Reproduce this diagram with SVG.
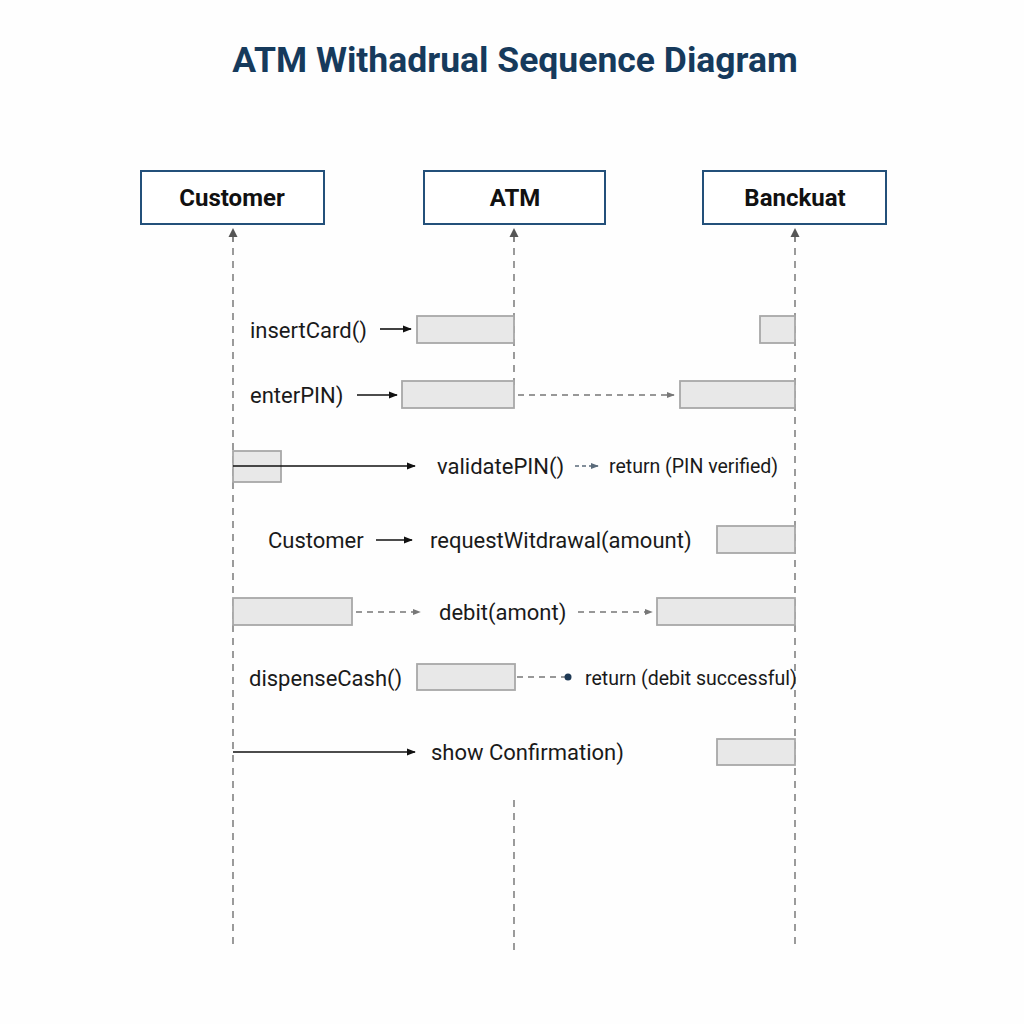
<svg xmlns="http://www.w3.org/2000/svg" width="1024" height="1024" viewBox="0 0 1024 1024">
<style>
.title{font-family:Roboto,"Liberation Sans",sans-serif;font-weight:700;font-size:35.5px;fill:#163a5c}
.hdr{fill:#fff;stroke:#23507a;stroke-width:2}
.hdrt{font-family:Roboto,"Liberation Sans",sans-serif;font-weight:700;font-size:24px;fill:#111}
.life{stroke:#666;stroke-width:1.3;stroke-dasharray:7 6;fill:none}
.act{fill:#e8e8e8;stroke:#a8a8a8;stroke-width:1.8}
.lbl{font-family:Roboto,"Liberation Sans",sans-serif;font-size:22px;fill:#1a1a1a}
.sm{font-family:Roboto,"Liberation Sans",sans-serif;font-size:19.5px;fill:#1a1a1a}
.solid{stroke:#111;stroke-width:1.6;fill:none}
.dash{stroke:#777;stroke-width:1.4;stroke-dasharray:6 5;fill:none}
.uparr{fill:#555}
</style>
<defs>
<marker id="ah" viewBox="0 0 10 10" refX="9" refY="5" markerWidth="9" markerHeight="9" markerUnits="userSpaceOnUse" orient="auto"><path d="M0,1 L10,5 L0,9 Z" fill="#111"/></marker>
<marker id="ahg" viewBox="0 0 10 10" refX="9" refY="5" markerWidth="8" markerHeight="8" markerUnits="userSpaceOnUse" orient="auto"><path d="M0,1 L10,5 L0,9 Z" fill="#777"/></marker>
<marker id="ahb" viewBox="0 0 10 10" refX="9" refY="5" markerWidth="8" markerHeight="8" markerUnits="userSpaceOnUse" orient="auto"><path d="M0,1 L10,5 L0,9 Z" fill="#5a6a7a"/></marker>
</defs>
<rect width="1024" height="1024" fill="#fefefe"/>
<text class="title" x="515" y="72" text-anchor="middle">ATM Withadrual Sequence Diagram</text>

<g id="customer"><rect class="hdr" x="141" y="171" width="183" height="53"/><text class="hdrt" x="232" y="206" text-anchor="middle">Customer</text></g>
<g id="atm"><rect class="hdr" x="424" y="171" width="181" height="53"/><text class="hdrt" x="515" y="206" text-anchor="middle">ATM</text></g>
<g id="bank"><rect class="hdr" x="703" y="171" width="183" height="53"/><text class="hdrt" x="795" y="206" text-anchor="middle">Banckuat</text></g>

<g id="lifelines">
<line x1="233" y1="242" x2="233" y2="234" stroke="#555" stroke-width="1.4"/>
<path class="uparr" d="M233,228 L237.5,237 L228.5,237 Z"/>
<line x1="514" y1="242" x2="514" y2="234" stroke="#555" stroke-width="1.4"/>
<path class="uparr" d="M514,228 L518.5,237 L509.5,237 Z"/>
<line x1="795" y1="242" x2="795" y2="234" stroke="#555" stroke-width="1.4"/>
<path class="uparr" d="M795,228 L799.5,237 L790.5,237 Z"/>
<line class="life" x1="233" y1="248" x2="233" y2="950"/>
<line class="life" x1="514" y1="248" x2="514" y2="385"/>
<line class="life" x1="514" y1="800" x2="514" y2="950"/>
<line class="life" x1="795" y1="248" x2="795" y2="950"/>
</g>

<g id="activations">
<rect class="act" x="417" y="316" width="97" height="27"/>
<rect class="act" x="760" y="316" width="35" height="27"/>
<rect class="act" x="402" y="381" width="112" height="27"/>
<rect class="act" x="680" y="381" width="115" height="27"/>
<rect class="act" x="233" y="451" width="48" height="31"/>
<rect class="act" x="717" y="526" width="78" height="27"/>
<rect class="act" x="233" y="598" width="119" height="27"/>
<rect class="act" x="657" y="598" width="138" height="27"/>
<rect class="act" x="417" y="664" width="98" height="26"/>
<rect class="act" x="717" y="739" width="78" height="26"/>
</g>

<g id="connectors">
<line class="solid" x1="380" y1="329" x2="411" y2="329" marker-end="url(#ah)"/>
<line class="solid" x1="357" y1="395" x2="397" y2="395" marker-end="url(#ah)"/>
<line class="dash" x1="518" y1="395" x2="674" y2="395" marker-end="url(#ahg)"/>
<line class="solid" x1="233" y1="466" x2="415" y2="466" marker-end="url(#ah)"/>
<line x1="575" y1="466" x2="598" y2="466" stroke="#5a6a7a" stroke-width="1.3" stroke-dasharray="4 3" marker-end="url(#ahb)"/>
<line class="solid" x1="376" y1="540" x2="412" y2="540" marker-end="url(#ah)"/>
<line class="dash" x1="356" y1="612" x2="420" y2="612" marker-end="url(#ahg)"/>
<line class="dash" x1="578" y1="612" x2="652" y2="612" marker-end="url(#ahg)"/>
<line class="dash" x1="517" y1="677" x2="565" y2="677"/>
<circle cx="568" cy="677" r="3.5" fill="#1f3a55"/>
<line class="solid" x1="233" y1="752" x2="415" y2="752" marker-end="url(#ah)"/>
</g>

<g id="labels">
<text class="lbl" x="250" y="338">insertCard()</text>
<text class="lbl" x="250" y="403">enterPIN)</text>
<text class="lbl" x="437" y="474">validatePIN()</text>
<text class="sm" x="609" y="473">return (PIN verified)</text>
<text class="lbl" x="268" y="548">Customer</text>
<text class="lbl" x="430" y="548">requestWitdrawal(amount)</text>
<text class="lbl" x="439" y="620">debit(amont)</text>
<text class="lbl" x="249" y="686">dispenseCash()</text>
<text class="sm" x="585" y="685">return (debit successful)</text>
<text class="lbl" x="431" y="760">show Confirmation)</text>
</g>
</svg>
